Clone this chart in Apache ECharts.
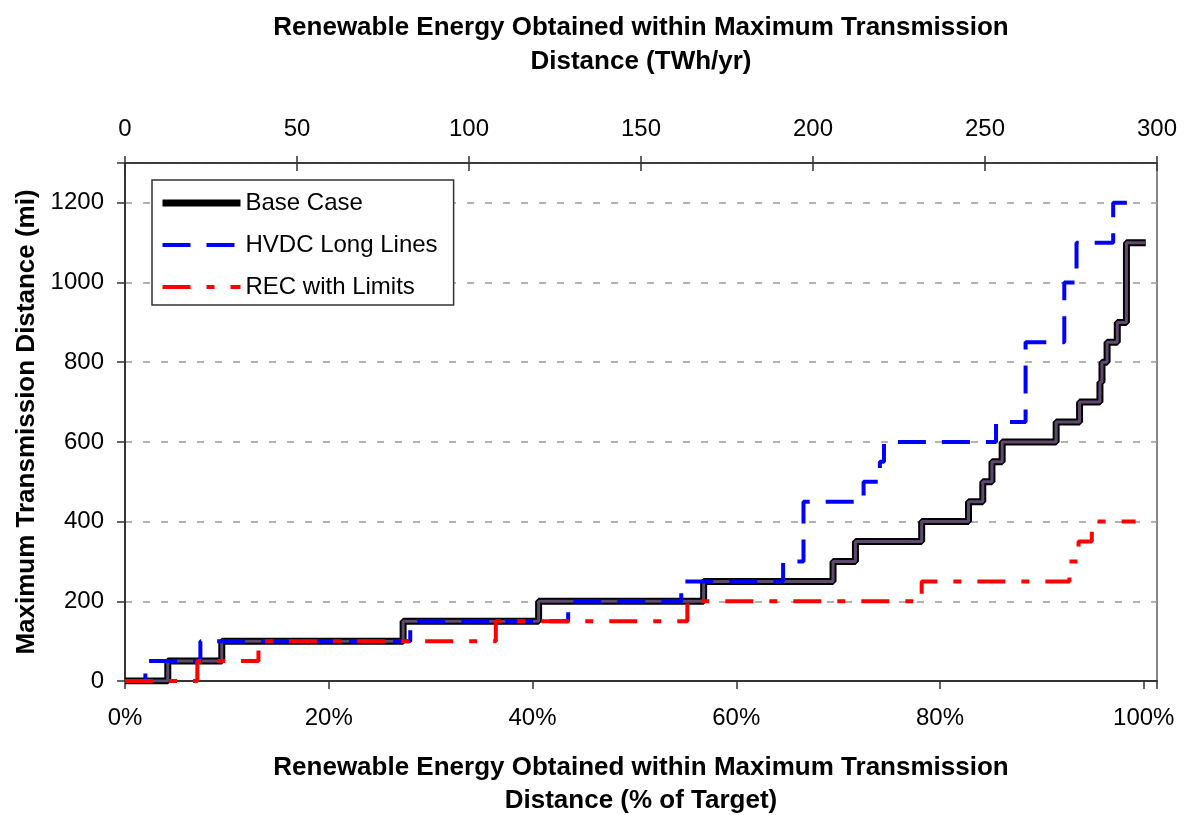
<!DOCTYPE html>
<html>
<head>
<meta charset="utf-8">
<script src="https://cdn.jsdelivr.net/npm/echarts@6/dist/echarts.min.js"></script>
<style>
  html, body { margin: 0; padding: 0; background: #fff; }
  #chart { width: 1192px; height: 815px; }
</style>
</head>
<body>
<div id="chart"></div>
<script>
// step points: x = % of target where the level starts, y = max distance (mi)
const baseX = [0, 4.2, 9.5, 27.3, 40.6, 56.8, 69.5, 71.7, 78.2, 82.8, 84.2, 85.1, 86.1, 91.4, 93.7, 95.7, 95.9, 96.4, 97.4, 98.3, 98.3, 98.3, 98.3, 100.2];
const baseY = [0, 50, 100, 150, 200, 250, 300, 350, 400, 450, 500, 550, 600, 650, 700, 750, 800, 850, 900, 950, 1000, 1050, 1100, 1100];

const hvdcX = [0, 2.0, 7.4, 28.0, 43.5, 54.6, 64.6, 66.6, 72.5, 74.1, 74.5, 85.5, 88.4, 92.2, 93.4, 97.0, 98.4];
const hvdcY = [0, 50, 100, 150, 200, 250, 300, 450, 500, 550, 600, 650, 850, 1000, 1100, 1200, 1200];

const recX = [0, 7.1, 13.1, 36.4, 55.2, 78.2, 92.7, 93.6, 94.9, 99.2];
const recY = [0, 50, 100, 150, 200, 250, 300, 350, 400, 400];

const seriesNames = ['Base Case', 'HVDC Long Lines', 'REC with Limits'];
const topTitle = 'Renewable Energy Obtained within Maximum Transmission\nDistance (TWh/yr)';
const bottomTitle = 'Renewable Energy Obtained within Maximum Transmission\nDistance (% of Target)';
const yTitle = 'Maximum Transmission Distance (mi)';

const font = "'Liberation Sans', Arial, sans-serif";

function pairs(xs, ys) {
  return xs.map((x, i) => [x, ys[i]]);
}

const chart = echarts.init(document.getElementById('chart'));
chart.setOption({
  animation: false,
  textStyle: { fontFamily: font, color: '#000' },
  grid: {
    left: 125,
    right: 35,
    top: 163,
    bottom: 134,
    outerBoundsMode: 'none',
    containLabel: false,
    show: true,
    borderColor: '#888',
    borderWidth: 2
  },
  legend: {
    data: [
      { name: seriesNames[0], itemStyle: { opacity: 0 }, lineStyle: { width: 7 } },
      { name: seriesNames[1], itemStyle: { opacity: 0 }, lineStyle: { width: 4 } },
      { name: seriesNames[2], itemStyle: { opacity: 0 }, lineStyle: { width: 4 } }
    ],
    orient: 'vertical',
    left: 152,
    top: 180,
    selectedMode: false,
    backgroundColor: '#fff',
    borderColor: '#333',
    borderWidth: 1.5,
    padding: [11, 16, 6, 7],
    itemWidth: 78,
    itemHeight: 24,
    itemGap: 18,
    textStyle: { fontSize: 24, fontFamily: font, color: '#000' }
  },
  xAxis: [
    {
      type: 'value',
      position: 'bottom',
      min: 0,
      max: 101.3,
      interval: 20,
      name: bottomTitle,
      nameLocation: 'middle',
      nameGap: 70,
      nameTextStyle: { fontSize: 26, fontWeight: 'bold', lineHeight: 33, color: '#000' },
      axisLine: { lineStyle: { color: '#333', width: 2 } },
      axisTick: { length: 8, lineStyle: { color: '#333', width: 1.5 } },
      axisLabel: {
        margin: 25,
        fontSize: 24,
        color: '#000',
        formatter: v => (v % 20 === 0 ? v + '%' : '')
      },
      splitLine: { show: false }
    },
    {
      type: 'value',
      position: 'top',
      min: 0,
      max: 300,
      interval: 50,
      name: topTitle,
      nameLocation: 'middle',
      nameGap: 84,
      nameTextStyle: { fontSize: 26, fontWeight: 'bold', lineHeight: 34, color: '#000' },
      axisLine: { lineStyle: { color: '#222', width: 1.5 } },
      axisTick: { length: 7, lineStyle: { color: '#333', width: 1.5 } },
      axisLabel: { margin: 22, fontSize: 24, color: '#000' },
      splitLine: { show: false }
    },
    {
      type: 'value',
      position: 'top',
      min: 0,
      max: 300,
      interval: 50,
      axisLine: { show: false },
      axisTick: { inside: true, length: 8, lineStyle: { color: '#333', width: 1.5 } },
      axisLabel: { show: false },
      splitLine: { show: false }
    }
  ],
  yAxis: {
    type: 'value',
    min: 0,
    max: 1300,
    interval: 200,
    name: yTitle,
    nameLocation: 'middle',
    nameGap: 82,
    nameTextStyle: { fontSize: 26, fontWeight: 'bold', color: '#000' },
    axisLine: { show: true, lineStyle: { color: '#333', width: 2 } },
    axisTick: { show: true, length: 8, lineStyle: { color: '#333', width: 1.5 } },
    axisLabel: {
      margin: 21,
      fontSize: 24,
      color: '#000',
      formatter: v => (v % 200 === 0 ? v : '')
    },
    splitLine: {
      show: true,
      lineStyle: { color: '#999', width: 1.5, type: [7, 11] }
    }
  },
  series: [
    {
      name: 'Base Case',
      type: 'line',
      step: 'end',
      symbol: 'none',
      xAxisIndex: 0,
      data: pairs(baseX, baseY),
      lineStyle: { color: '#000', width: 7 },
      itemStyle: { color: '#000' }
    },
    {
      name: 'Base Case (inner)',
      type: 'line',
      step: 'end',
      symbol: 'none',
      xAxisIndex: 0,
      data: pairs(baseX, baseY),
      lineStyle: { color: '#5e4a6e', width: 3 },
      itemStyle: { color: '#5e4a6e' }
    },
    {
      name: 'HVDC Long Lines',
      type: 'line',
      step: 'end',
      symbol: 'none',
      xAxisIndex: 0,
      data: pairs(hvdcX, hvdcY),
      lineStyle: { color: '#0000ff', width: 4, type: [28, 16] },
      itemStyle: { color: '#0000ff' }
    },
    {
      name: 'REC with Limits',
      type: 'line',
      step: 'end',
      symbol: 'none',
      xAxisIndex: 0,
      data: pairs(recX, recY),
      lineStyle: { color: '#ff0000', width: 4, type: [28, 16, 8, 16] },
      itemStyle: { color: '#ff0000' }
    }
  ]
});
</script>
</body>
</html>
